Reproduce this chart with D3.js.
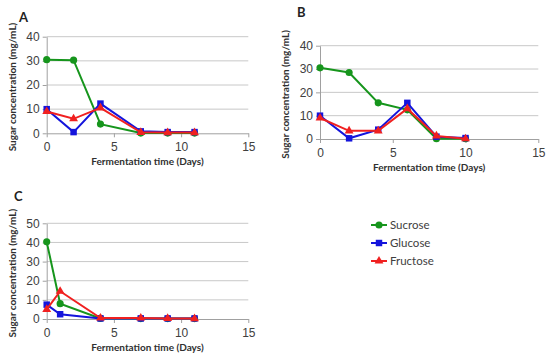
<!DOCTYPE html>
<html>
<head>
<meta charset="utf-8">
<script src="https://cdn.jsdelivr.net/npm/d3@7"></script>
<style>
  body { margin: 0; background: #fff; }
  svg { font-family: Lato, "Open Sans", sans-serif; }
  .tick text { fill: #404040; font-size: 12px; }
  .grid line { stroke: #c8c8c8; }
  .axis path, .axis line { stroke: #a0a0a0; }
  .title { font-weight: bold; font-size: 10px; fill: #303030; }
  .panel-label { font-weight: bold; font-size: 13px; fill: #222; }
</style>
</head>
<body>
<svg id="chart" width="550" height="360"></svg>
<script>
var seriesNames = ["Sucrose", "Glucose", "Fructose"];
var seriesColors = ["#16951c", "#1414dc", "#f02020"];
var xTicks = [0, 5, 10, 15];

var daysA = [0, 2, 4, 7, 9, 11];
var sucroseA = [30.5, 30.3, 3.8, 0.1, 0.1, 0.1];
var glucoseA = [10.0, 0.5, 12.3, 0.8, 0.5, 0.5];
var fructoseA = [9.0, 6.0, 10.5, 0.4, 0.3, 0.3];

var daysB = [0, 2, 4, 6, 8, 10];
var sucroseB = [30.5, 28.5, 15.5, 12.5, 0.1, 0.1];
var glucoseB = [10.0, 0.3, 4.0, 15.5, 1.0, 0.4];
var fructoseB = [9.0, 3.5, 3.5, 13.0, 1.3, 0.1];

var daysC = [0, 1, 4, 7, 9, 11];
var sucroseC = [40.3, 8.0, 0.3, 0.2, 0.2, 0.2];
var glucoseC = [7.5, 2.5, 0.3, 0.3, 0.3, 0.3];
var fructoseC = [5.0, 14.5, 0.5, 0.5, 0.3, 0.2];

var svg = d3.select("#chart");

function drawPanel(opts) {
    var x = d3.scaleLinear().domain([0, 15]).range([opts.left, opts.right]),
        y = d3.scaleLinear().domain([0, opts.ymax]).range([opts.bottom, opts.top]);
    var yTicks = d3.range(0, opts.ymax + 1, 10);

    var g = svg.append("g");

    g.append("g")
        .attr("class", "grid")
        .selectAll("line")
        .data(yTicks.slice(1))
        .enter().append("line")
        .attr("x1", opts.left).attr("x2", opts.right)
        .attr("y1", function(d) { return y(d); })
        .attr("y2", function(d) { return y(d); });

    g.append("g")
        .attr("class", "axis")
        .attr("transform", "translate(0," + opts.bottom + ")")
        .call(d3.axisBottom(x).tickValues(xTicks).tickSize(4).tickPadding(5).tickSizeOuter(0));

    g.append("g")
        .attr("class", "axis")
        .attr("transform", "translate(" + opts.left + ",0)")
        .call(d3.axisLeft(y).tickValues(yTicks).tickSize(4).tickPadding(3).tickSizeOuter(0));

    g.append("text")
        .attr("class", "title")
        .attr("x", (opts.left + opts.right) / 2)
        .attr("y", opts.bottom + 32)
        .attr("text-anchor", "middle")
        .text("Fermentation time (Days)");

    g.append("text")
        .attr("class", "title")
        .attr("transform", "translate(" + (opts.left - 31) + "," + ((opts.top + opts.bottom) / 2 + 2) + ") rotate(-90)")
        .attr("text-anchor", "middle")
        .text("Sugar concentration (mg/mL)");

    g.append("text")
        .attr("class", "panel-label")
        .attr("x", opts.labelX)
        .attr("y", opts.labelY)
        .text(opts.label);

    var line = d3.line()
        .x(function(d) { return x(d[0]); })
        .y(function(d) { return y(d[1]); });

    opts.series.forEach(function(vals, i) {
        var pts = opts.days.map(function(d, j) { return [d, vals[j]]; });
        g.append("path")
            .datum(pts)
            .attr("fill", "none")
            .attr("stroke", seriesColors[i])
            .attr("stroke-width", 2)
            .attr("d", line);
        g.selectAll(".m" + i)
            .data(pts)
            .enter().append("path")
            .attr("class", "m" + i)
            .attr("fill", seriesColors[i])
            .attr("transform", function(d) { return "translate(" + x(d[0]) + "," + y(d[1]) + ")"; })
            .attr("d", marker(i));
    });
}

function marker(i) {
    if (i == 0) return d3.symbol().type(d3.symbolCircle).size(40)();
    if (i == 1) return d3.symbol().type(d3.symbolSquare).size(42)();
    return d3.symbol().type(d3.symbolTriangle).size(34)();
}

drawPanel({label: "A", labelX: 19, labelY: 22, left: 46.7, right: 248.3, top: 36.7, bottom: 133.3, ymax: 40,
    days: daysA, series: [sucroseA, glucoseA, fructoseA]});
drawPanel({label: "B", labelX: 297, labelY: 17, left: 320, right: 538.3, top: 45.7, bottom: 139, ymax: 40,
    days: daysB, series: [sucroseB, glucoseB, fructoseB]});
drawPanel({label: "C", labelX: 14, labelY: 201, left: 46.7, right: 248.3, top: 223.3, bottom: 319, ymax: 50,
    days: daysC, series: [sucroseC, glucoseC, fructoseC]});

// legend
var legend = svg.append("g").attr("transform", "translate(371,225)");
seriesNames.forEach(function(name, i) {
    var row = legend.append("g").attr("transform", "translate(0," + i * 18 + ")");
    row.append("line")
        .attr("x1", 0).attr("x2", 16)
        .attr("stroke", seriesColors[i]).attr("stroke-width", 2);
    row.append("path")
        .attr("transform", "translate(8,0)")
        .attr("fill", seriesColors[i])
        .attr("d", marker(i));
    row.append("text")
        .attr("x", 19).attr("y", 4)
        .style("font-size", "11.5px")
        .style("fill", "#404040")
        .text(name);
});
</script>
</body>
</html>
